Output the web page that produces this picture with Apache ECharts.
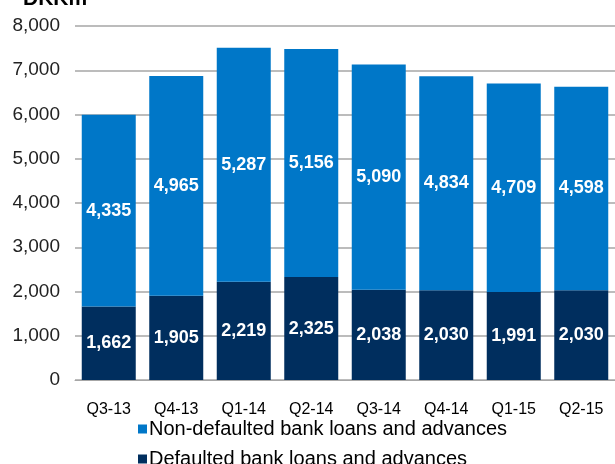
<!DOCTYPE html>
<html><head><meta charset="utf-8">
<script src="https://cdn.jsdelivr.net/npm/echarts@6/dist/echarts.min.js"></script>
<style>html,body{margin:0;padding:0;background:#fff}#c{width:615px;height:464px}</style>
</head><body><div id="c"></div>
<script>
const categories = ['Q3-13','Q4-13','Q1-14','Q2-14','Q3-14','Q4-14','Q1-15','Q2-15'];
const defaulted = [1662,1905,2219,2325,2038,2030,1991,2030];
const nonDefaulted = [4335,4965,5287,5156,5090,4834,4709,4598];
const seriesNames = ['Non-defaulted bank loans and advances','Defaulted bank loans and advances'];
const unitLabel = 'DKKm';

const FONT = '"Liberation Sans", Arial, sans-serif';
const chart = echarts.init(document.getElementById('c'), null, {renderer:'canvas'});
const fmt = v => v.toLocaleString('en-US');
chart.setOption({
  animation:false,
  backgroundColor:'#fff',
  title:{text:unitLabel,left:18,top:-16,textStyle:{fontFamily:FONT,fontSize:21,fontWeight:'bold',color:'#000'}},
  grid:{left:75,top:26,width:548,height:354},
  legend:{
    orient:'vertical',left:133,top:414,height:80,itemGap:10,itemWidth:9,itemHeight:9,icon:'rect',
    data:seriesNames,
    textStyle:{fontFamily:FONT,fontSize:20,color:'#000',padding:[0,0,0,-3]}
  },
  xAxis:{type:'category',data:categories,
    axisLine:{lineStyle:{color:'#a6a6a6',width:1}},axisTick:{show:false},
    axisLabel:{interval:0,fontFamily:FONT,fontSize:16,color:'#000',margin:22}},
  yAxis:{type:'value',min:0,max:8000,interval:1000,
    axisLine:{show:false},axisTick:{show:false},
    splitLine:{lineStyle:{color:'#a6a6a6',width:1.5}},
    axisLabel:{fontFamily:FONT,fontSize:19,color:'#222',margin:15,formatter:v=>fmt(v)}},
  series:[
    {name:seriesNames[1],type:'bar',stack:'s',data:defaulted,barCategoryGap:'20%',
     itemStyle:{color:'#002E5E'},
     label:{show:true,position:'inside',formatter:p=>fmt(p.value),color:'#fff',fontFamily:FONT,fontWeight:'bold',fontSize:18}},
    {name:seriesNames[0],type:'bar',stack:'s',data:nonDefaulted,barCategoryGap:'20%',
     itemStyle:{color:'#0077C8'},
     label:{show:true,position:'inside',formatter:p=>fmt(p.value),color:'#fff',fontFamily:FONT,fontWeight:'bold',fontSize:18}}
  ]
});
</script></body></html>
